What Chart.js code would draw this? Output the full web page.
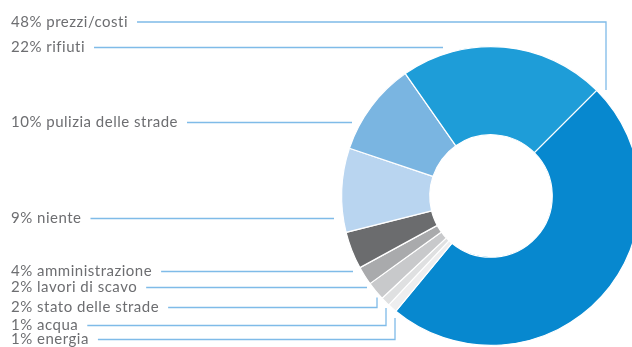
<!DOCTYPE html>
<html lang="it">
<head>
<meta charset="utf-8">
<script src="https://cdn.jsdelivr.net/npm/chart.js@4"></script>
<style>
    html, body { margin: 0; padding: 0; background: #fff; overflow: hidden; }
    .wrap { width: 632px; height: 347px; overflow: hidden; position: relative; }
    canvas { position: absolute; left: 0; top: 0; }
</style>
</head>
<body>
<div class="wrap">
    <canvas id="chart" width="660" height="347"></canvas>
</div>
<script>
// categories in the order they are listed on the left
const categories = [
    'prezzi/costi',
    'rifiuti',
    'pulizia delle strade',
    'niente',
    'amministrazione',
    'lavori di scavo',
    'stato delle strade',
    'acqua',
    'energia',
];
const shares = [48, 22, 10, 9, 4, 2, 2, 1, 1];
const colors = [
    '#0788cf',
    '#1e9dd8',
    '#7ab5e1',
    '#b9d5f0',
    '#6b6c6e',
    '#a9aaac',
    '#c8c9cb',
    '#dfe0e1',
    '#eeeeef',
];

// leader lines: y of the horizontal run, where it stops, optional vertical end
const leaders = [
    { y: 22, x: 606, toY: 90 },
    { y: 47.5, x: 443 },
    { y: 122.5, x: 352 },
    { y: 218.5, x: 334 },
    { y: 271.5, x: 353 },
    { y: 287.5, x: 367 },
    { y: 307.5, x: 377, toY: 297.5 },
    { y: 325.5, x: 386, toY: 308 },
    { y: 339.5, x: 395, toY: 318 },
];

// slices run clockwise: the big one first, then the rest bottom-up
const order = [0, 8, 7, 6, 5, 4, 3, 2, 1];

const leaderLabels = {
    id: 'leaderLabels',
    afterDraw(chart) {
        const ctx = chart.ctx;
        ctx.save();
        ctx.font = '15px Lato, "Open Sans", sans-serif';
        ctx.letterSpacing = '0.5px';
        ctx.textBaseline = 'alphabetic';
        ctx.textAlign = 'left';
        categories.forEach((name, i) => {
            const l = leaders[i];
            const text = shares[i] + '% ' + name;
            ctx.fillStyle = '#6d6e71';
            ctx.fillText(text, 11, l.y + 4.5);
            const w = ctx.measureText(text).width;
            ctx.strokeStyle = '#7fbbe8';
            ctx.lineWidth = 1.3;
            ctx.beginPath();
            ctx.moveTo(11 + w + 9, l.y);
            ctx.lineTo(l.x, l.y);
            if (l.toY !== undefined) ctx.lineTo(l.x, l.toY);
            ctx.stroke();
        });
        ctx.restore();
    },
};

new Chart(document.getElementById('chart'), {
    type: 'doughnut',
    data: {
        labels: order.map(i => categories[i]),
        datasets: [
            {
                data: order.map(i => shares[i]),
                backgroundColor: order.map(i => colors[i]),
                borderColor: '#ffffff',
                borderWidth: 1.2,
            },
        ],
    },
    options: {
        responsive: false,
        animation: false,
        rotation: 45,
        cutout: '41%',
        layout: {
            padding: { left: 341, right: 19, top: 46, bottom: 1 },
        },
        plugins: {
            legend: { display: false },
            tooltip: { enabled: false },
        },
    },
    plugins: [leaderLabels],
});
</script>
</body>
</html>
